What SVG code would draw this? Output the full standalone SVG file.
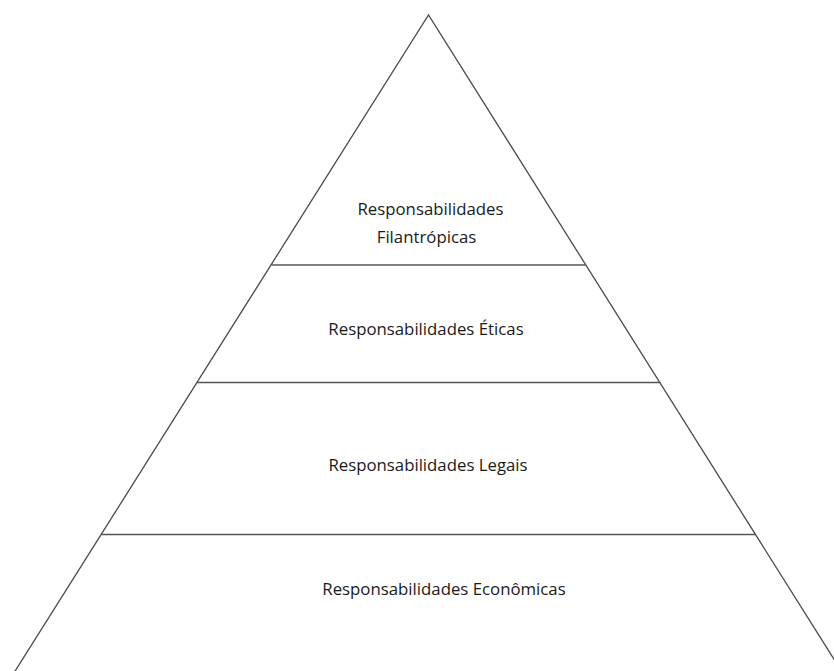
<svg xmlns="http://www.w3.org/2000/svg" width="834" height="671" viewBox="0 0 834 671">
<style>
.edge{stroke:#4a4a4a;stroke-width:1.3;fill:none}
.div{stroke:#555;stroke-width:1.6;fill:none}
.lbl{font-family:"Open Sans","Noto Sans",sans-serif;font-size:16.8px;fill:#1a1a1a;text-anchor:middle}
</style>
<rect width="834" height="671" fill="#fff"/>
<g id="connectors">
<path class="edge" d="M14.5 672 L428.5 15 L842 672"/>
<line class="div" x1="271.5" y1="265" x2="585.5" y2="265"/>
<line class="div" x1="197" y1="382.5" x2="660.5" y2="382.5"/>
<line class="div" x1="101.5" y1="534.5" x2="755.5" y2="534.5"/>
</g>
<g id="filantropicas">
<text class="lbl" x="430.5" y="215">Responsabilidades</text>
<text class="lbl" x="426.5" y="243">Filantrópicas</text>
</g>
<g id="eticas">
<text class="lbl" x="426" y="335">Responsabilidades Éticas</text>
</g>
<g id="legais">
<text class="lbl" x="428" y="471">Responsabilidades Legais</text>
</g>
<g id="economicas">
<text class="lbl" x="444" y="595">Responsabilidades Econômicas</text>
</g>
</svg>
